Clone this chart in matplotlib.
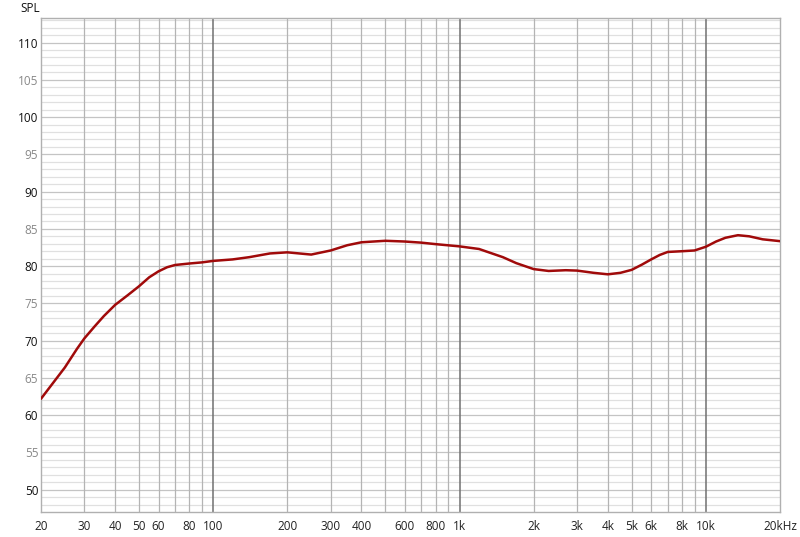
import matplotlib.pyplot as plt
import numpy as np

plt.rcParams['font.family'] = ['Open Sans', 'DejaVu Sans']

# frequency response
freq = [20, 25, 28, 30, 33, 36, 40, 45, 50, 55, 60, 65, 70, 80, 90, 100, 120, 140, 170,
        200, 250, 300, 350, 400, 500, 600, 700, 800, 1000, 1200, 1500, 1700,
        2000, 2300, 2700, 3000, 3500, 4000, 4500, 5000, 5500, 6000, 6500, 7000,
        8000, 9000, 10000, 11000, 12000, 13500, 15000, 17000, 20000]
spl = [62.2, 66.4, 68.9, 70.3, 71.9, 73.3, 74.8, 76.1, 77.3, 78.5, 79.3, 79.85, 80.15, 80.35,
       80.5, 80.7, 80.9, 81.2, 81.7, 81.85, 81.55, 82.1, 82.8, 83.2, 83.4, 83.3,
       83.15, 82.95, 82.65, 82.3, 81.2, 80.4, 79.6, 79.35, 79.45, 79.4, 79.1,
       78.9, 79.1, 79.5, 80.2, 80.9, 81.5, 81.9, 82.0, 82.1, 82.6, 83.3, 83.8,
       84.15, 84.0, 83.6, 83.35]

xticks = [20, 30, 40, 50, 60, 80, 100, 200, 300, 400, 600, 800, 1000,
          2000, 3000, 4000, 5000, 6000, 8000, 10000, 20000]
xlabels = ['20', '30', '40', '50', '60', '80', '100', '200', '300', '400', '600',
           '800', '1k', '2k', '3k', '4k', '5k', '6k', '8k', '10k', '20kHz']
yticks = [50, 55, 60, 65, 70, 75, 80, 85, 90, 95, 100, 105, 110]

fig = plt.figure(figsize=(8, 5.37), dpi=100)
ax = fig.add_axes([41/800, 1 - 512/537, 739/800, 494/537])
ax.set_xscale('log')
ax.set_xlim(20, 20000)
ax.set_ylim(47.0, 113.3)

# grid lines
for db in range(48, 114):
    c = '#c4c4c4' if db % 5 == 0 else '#e0e0e0'
    ax.axhline(db, color=c, lw=0.9, zorder=0)
for dec in [10, 100, 1000, 10000]:
    for m in range(1, 10):
        f = dec * m
        if 20 < f < 20000:
            if m == 1:
                ax.axvline(f, color='#707070', lw=1.1, zorder=0)
            else:
                ax.axvline(f, color='#b4b4b4', lw=0.9, zorder=0)

ax.plot(freq, spl, color='#a00a0a', lw=1.8, zorder=3,
        solid_joinstyle='round', solid_capstyle='round')

ax.set_xticks(xticks)
ax.set_xticklabels(xlabels)
ax.xaxis.set_minor_locator(plt.NullLocator())
ax.set_yticks(yticks)
ax.set_yticklabels([str(v) for v in yticks])
for lab, v in zip(ax.get_yticklabels(), yticks):
    lab.set_color('#111111' if v % 10 == 0 else '#888888')
ax.tick_params(axis='both', length=0, labelsize=8.5)
ax.tick_params(axis='x', pad=6)
ax.tick_params(axis='y', pad=2)
for lab in ax.get_xticklabels():
    lab.set_color('#222222')

for s in ax.spines.values():
    s.set_color('#b0b0b0')
    s.set_linewidth(1)

fig.text(20/800, 1 - 8/537, 'SPL', fontsize=8.5, va='center', ha='left', color='#111111')

fig.savefig('out.png', dpi=100)
